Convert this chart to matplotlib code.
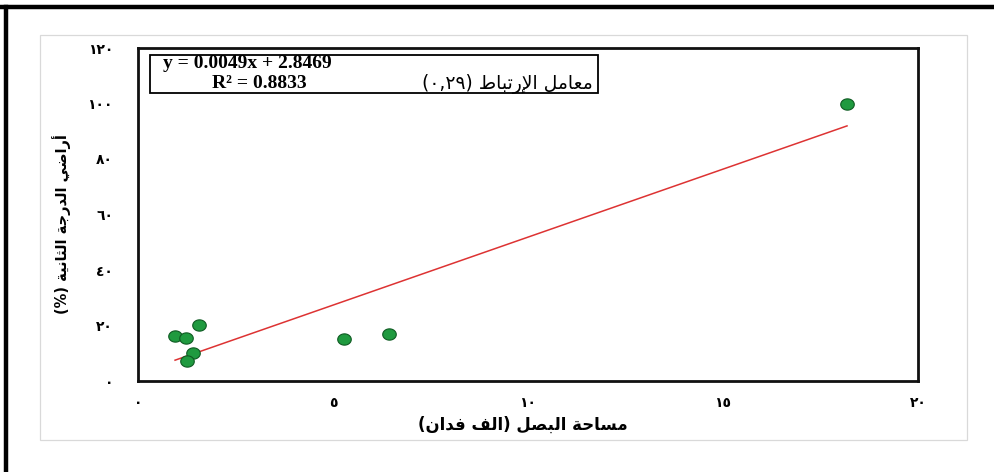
import matplotlib
matplotlib.use("Agg")
import matplotlib.pyplot as plt
import numpy as np
from matplotlib.path import Path
from matplotlib.lines import Line2D
from matplotlib.patches import Rectangle

# ---------------- data ----------------
onion_area = [0.95, 1.23, 1.57, 1.41, 1.26, 5.29, 6.44, 18.18]   # thousand feddan
second_grade = [16.2, 15.4, 20.1, 10.1, 7.2, 15.1, 16.9, 99.9]  # %
fit_slope = 0.0049      # per feddan
fit_intercept = 2.8469
r_squared = 0.8833
x_ticks = [0, 5, 10, 15, 20]
y_ticks = [0, 20, 40, 60, 80, 100, 120]
x_label = "مساحة البصل (الف فدان)"
y_label = "أراضي الدرجة الثانية (%)"
corr_label = "معامل الإرتباط (٠,٢٩)"

# ---------------- minimal Arabic shaping (presentation forms) ----------------
FORMS = {  # isolated, final, initial, medial
    'ا': ('\uFE8D', '\uFE8E', None, None), 'أ': ('\uFE83', '\uFE84', None, None),
    'إ': ('\uFE87', '\uFE88', None, None), 'د': ('\uFEA9', '\uFEAA', None, None),
    'ر': ('\uFEAD', '\uFEAE', None, None), 'ة': ('\uFE93', '\uFE94', None, None),
    'ب': ('\uFE8F', '\uFE90', '\uFE91', '\uFE92'), 'ت': ('\uFE95', '\uFE96', '\uFE97', '\uFE98'),
    'ث': ('\uFE99', '\uFE9A', '\uFE9B', '\uFE9C'), 'ج': ('\uFE9D', '\uFE9E', '\uFE9F', '\uFEA0'),
    'ح': ('\uFEA1', '\uFEA2', '\uFEA3', '\uFEA4'), 'س': ('\uFEB1', '\uFEB2', '\uFEB3', '\uFEB4'),
    'ص': ('\uFEB9', '\uFEBA', '\uFEBB', '\uFEBC'), 'ض': ('\uFEBD', '\uFEBE', '\uFEBF', '\uFEC0'),
    'ط': ('\uFEC1', '\uFEC2', '\uFEC3', '\uFEC4'), 'ع': ('\uFEC9', '\uFECA', '\uFECB', '\uFECC'),
    'ف': ('\uFED1', '\uFED2', '\uFED3', '\uFED4'), 'ل': ('\uFEDD', '\uFEDE', '\uFEDF', '\uFEE0'),
    'م': ('\uFEE1', '\uFEE2', '\uFEE3', '\uFEE4'), 'ن': ('\uFEE5', '\uFEE6', '\uFEE7', '\uFEE8'),
    'ي': ('\uFEF1', '\uFEF2', '\uFEF3', '\uFEF4'),
}
LAM_ALEF = {'ا': ('\uFEFB', '\uFEFC'), 'أ': ('\uFEF7', '\uFEF8'), 'إ': ('\uFEF9', '\uFEFA')}


def dual(c):
    return c in FORMS and FORMS[c][2] is not None


def shape(text):
    out = []
    i = 0
    n = len(text)
    while i < n:
        c = text[i]
        if c not in FORMS:
            out.append(c)
            i += 1
            continue
        prev = text[i - 1] if i > 0 else ''
        jp = dual(prev)
        if c == 'ل' and i + 1 < n and text[i + 1] in LAM_ALEF:
            out.append(LAM_ALEF[text[i + 1]][1 if jp else 0])
            i += 2
            continue
        nxt = text[i + 1] if i + 1 < n else ''
        jn = dual(c) and nxt in FORMS
        f = FORMS[c]
        if jp and jn:
            out.append(f[3])
        elif jp:
            out.append(f[1])
        elif jn:
            out.append(f[2])
        else:
            out.append(f[0])
        i += 1
    return ''.join(out)


def visual(text):
    s = shape(text)
    rev = list(s[::-1])
    mirror = {'(': ')', ')': '('}
    rev = [mirror.get(c, c) for c in rev]
    # keep number runs left-to-right
    res, i = [], 0
    isnum = lambda ch: ('\u0660' <= ch <= '\u0669') or ch.isdigit() or ch in ',.%'
    while i < len(rev):
        if isnum(rev[i]):
            j = i
            while j < len(rev) and isnum(rev[j]):
                j += 1
            res.extend(rev[i:j][::-1])
            i = j
        else:
            res.append(rev[i])
            i += 1
    return ''.join(res)


def arabic_digits(v):
    return ''.join(chr(0x0660 + int(d)) if d.isdigit() else d for d in str(v))

# ---------------- figure ----------------
W, H = 994, 472
fig = plt.figure(figsize=(W / 100, H / 100), dpi=100)
fx = lambda px: px / W
fy = lambda py: 1 - py / H

AR = ['DejaVu Sans']

# outer black frame (top + left visible)
fig.add_artist(Line2D([0, 1], [fy(7), fy(7)], color='black', lw=3.2, transform=fig.transFigure))
fig.add_artist(Line2D([fx(6), fx(6)], [0, fy(7)], color='black', lw=3.2, transform=fig.transFigure))
# chart area border
fig.add_artist(Rectangle((fx(40), fy(440)), fx(967) - fx(40), fy(35) - fy(440),
                         transform=fig.transFigure, fill=False, ec='#d9d9d9', lw=0.9))

ax = fig.add_axes([fx(138), fy(381), fx(918) - fx(138), fy(48) - fy(381)])
ax.set_xlim(0, 20)
ax.set_ylim(0, 120)
for sp in ax.spines.values():
    sp.set_linewidth(2.0)
    sp.set_color('#111111')
ax.set_xticks(x_ticks)
ax.set_yticks(y_ticks)
ax.set_xticklabels([arabic_digits(v) for v in x_ticks], family=AR, fontweight='bold', fontsize=10)
ax.set_yticklabels([arabic_digits(v) for v in y_ticks], family=AR, fontweight='bold', fontsize=10)
ax.tick_params(axis='both', length=0)
ax.tick_params(axis='x', pad=11)
ax.tick_params(axis='y', pad=18)

# ellipse marker (slightly wider than tall)
t = np.linspace(0, 2 * np.pi, 60)
ell = Path(np.column_stack([1.2 * np.cos(t), np.sin(t)]), closed=True)
ax.scatter(onion_area, second_grade, marker=ell, s=95, c='#1f9a3f', edgecolors='#0e5a22',
           linewidths=0.8, zorder=3)

xs = np.array([min(onion_area), max(onion_area)])
ys = fit_slope * 1000 * xs + fit_intercept
ax.plot(xs, ys, color='#dd3333', lw=1.1, zorder=2)

# axis titles
fig.text(fx(523), fy(425), visual(x_label), family=AR, fontweight='bold', fontsize=12,
         ha='center', va='center')
fig.text(fx(62), fy(224), visual(y_label), family=AR, fontweight='bold', fontsize=10.5,
         ha='center', va='center', rotation=90)

# equation box
fig.add_artist(Rectangle((fx(150), fy(93)), fx(598) - fx(150), fy(55) - fy(93),
                         transform=fig.transFigure, fill=False, ec='black', lw=1.3))
fig.text(fx(163), fy(64), f"y = {fit_slope}x + {fit_intercept}", family=['Liberation Serif'],
         fontweight='bold', fontsize=14, ha='left', va='center')
fig.text(fx(212), fy(84), f"R² = {r_squared}", family=['Liberation Serif'],
         fontweight='bold', fontsize=14, ha='left', va='center')
fig.text(fx(593), fy(84), visual(corr_label), family=AR, fontsize=13.5,
         ha='right', va='center')

fig.savefig('out.png', dpi=100)
